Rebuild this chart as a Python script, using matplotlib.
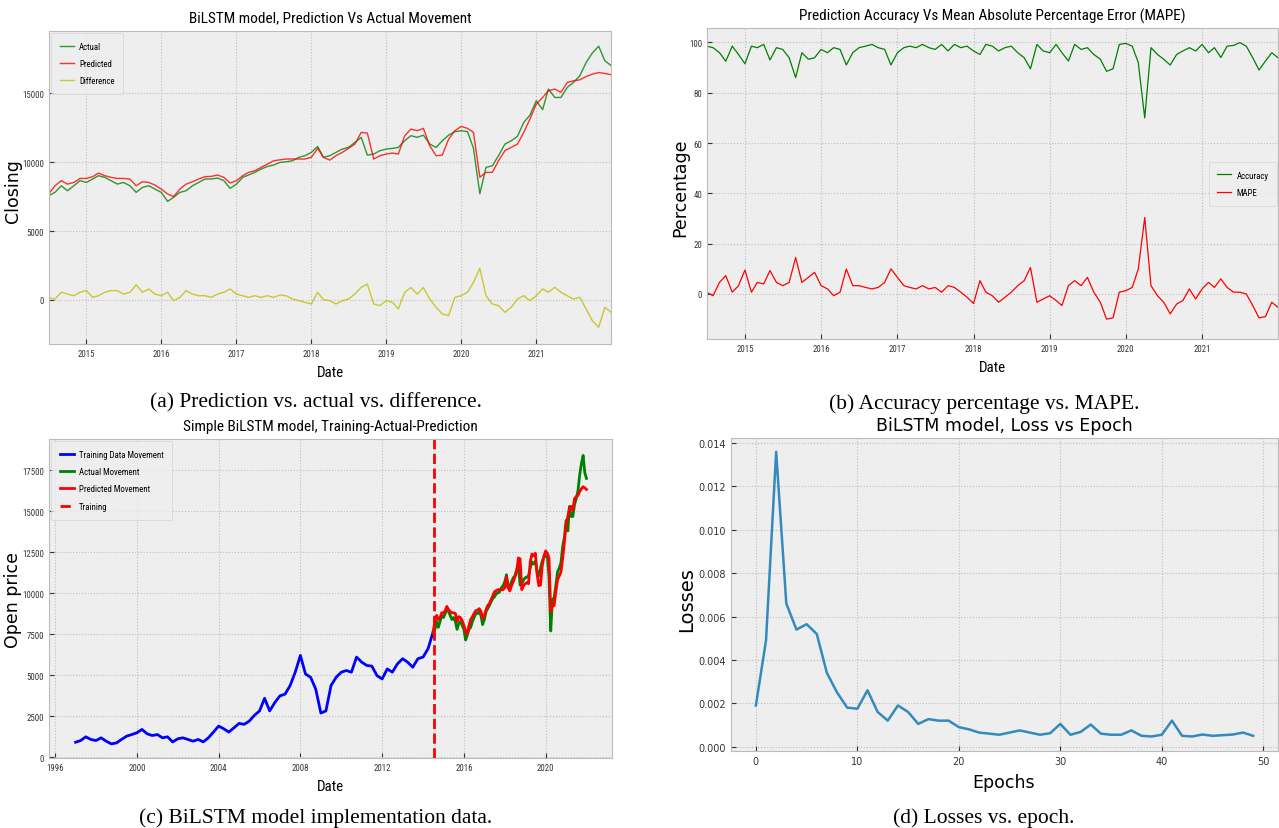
import matplotlib
matplotlib.use("Agg")
import matplotlib.pyplot as plt
import matplotlib.dates as mdates
from matplotlib import font_manager
from matplotlib.font_manager import FontProperties
from matplotlib.ticker import FormatStrFormatter
import pandas as pd

# ---------------- data ----------------
test_first_month = "2014-07-01"
test_last_month = "2021-12-01"
test_last_day = "2021-12-31"

actual = [7560, 7800, 8280, 7920, 8280, 8650,
          8520, 8770, 9010, 8890, 8650, 8400, 8520, 8280, 7800, 8160, 8280, 8040,
          7800, 7150, 7440, 7800, 7920, 8280, 8520, 8770, 8770, 8840, 8650, 8090,
          8400, 8890, 9060, 9250, 9490, 9680, 9780, 9970, 10020, 10090, 10340, 10460,
          10700, 11130, 10340, 10460, 10700, 10940, 11060, 11420, 11790, 10500, 10580, 10820,
          10940, 10990, 11060, 11540, 11910, 11790, 11950, 11300, 11060, 11540, 11950, 12200,
          12270, 12200, 11000, 7700, 9610, 9730, 10460, 11300, 11540, 11860, 12870, 13400,
          14440, 13800, 15290, 14680, 14680, 15410, 15770, 16250, 17220, 17900, 18400, 17340, 17000]

predicted = [7680, 8280, 8650, 8400, 8520, 8810,
             8810, 8940, 9200, 9010, 8890, 8810, 8810, 8770, 8280, 8570, 8520, 8330,
             8040, 7680, 7500, 8040, 8400, 8570, 8770, 8940, 8960, 9060, 8890, 8480,
             8650, 9010, 9250, 9370, 9610, 9850, 10090, 10160, 10220, 10220, 10220, 10220,
             10340, 10990, 10340, 10140, 10460, 10700, 10990, 11300, 12150, 12100, 10220, 10460,
             10580, 10650, 10580, 11910, 12390, 12270, 12440, 11180, 10460, 10500, 11660, 12270,
             12580, 12440, 12150, 8900, 9250, 9250, 10090, 10820, 11060, 11300, 12150, 13110,
             14200, 14680, 15170, 15290, 15050, 15770, 15890, 15960, 16200, 16370, 16490, 16420, 16330]

difference = [190, 70, 560, 430, 310, 560,
              680, 190, 310, 560, 680, 680, 430, 560, 1100, 560, 800, 430,
              310, 560, -50, 190, 680, 430, 310, 310, 190, 430, 560, 800,
              430, 310, 190, 310, 190, 310, 190, 360, 310, 70, -50, -170,
              -290, 560, 20, -50, -290, -50, 70, 430, 920, 1150, -290, -410,
              -50, -170, -650, 560, 900, 430, 900, 70, -530, -1010, -1130, 190,
              310, 560, 1280, 2300, 310, -290, -410, -890, -530, 70, 310, -50,
              310, 800, 560, 920, 560, 310, 70, 190, -650, -1500, -1980, -530, -890]

accuracy = [98.5, 97.9, 95.9, 92.5, 98.5, 95.2,
            91.5, 98.5, 97.9, 99.2, 93.0, 97.9, 97.2, 93.9, 86.0, 95.9, 93.3, 93.9,
            97.2, 95.9, 97.9, 97.2, 91.0, 95.9, 97.9, 98.5, 99.2, 97.9, 97.2, 91.0,
            95.9, 97.9, 98.5, 97.9, 99.2, 97.9, 97.2, 99.2, 96.6, 99.2, 97.9, 98.5,
            96.6, 95.2, 99.2, 98.5, 96.6, 97.9, 98.5, 95.9, 93.9, 89.5, 99.2, 96.6,
            95.9, 99.2, 95.9, 92.6, 99.2, 97.2, 97.9, 95.2, 93.3, 88.5, 89.5, 99.2,
            99.6, 98.5, 92.0, 70.0, 97.9, 95.2, 93.3, 91.0, 95.2, 96.6, 97.9, 96.6,
            99.2, 95.9, 97.9, 94.0, 98.5, 98.8, 99.9, 98.5, 93.9, 89.0, 92.6, 95.9, 93.9]

mape = [0.7, -0.7, 4.6, 7.3, 0.7, 3.3,
        9.5, 0.7, 4.6, 4.0, 9.3, 4.6, 3.3, 4.6, 14.5, 4.6, 6.6, 8.6,
        3.3, 2.0, -0.7, 0.7, 9.9, 3.3, 3.3, 2.6, 2.0, 2.6, 4.6, 10.0,
        6.6, 3.3, 2.6, 2.0, 3.3, 2.0, 2.6, 0.7, 3.3, 2.6, 0.7, -1.3,
        -3.8, 5.3, 0.7, -0.7, -3.3, -1.3, 0.7, 3.3, 5.3, 10.5, -3.3, -2.0,
        -0.7, -2.6, -4.6, 3.3, 5.3, 3.3, 6.6, 0.7, -3.3, -10.0, -9.5, 0.7,
        1.3, 2.6, 9.9, 30.4, 3.3, -0.7, -3.3, -7.9, -4.0, -2.6, 2.0, -2.0,
        2.0, 4.6, 2.6, 6.0, 2.6, 0.7, 0.7, 0.0, -4.6, -9.5, -9.0, -3.3, -5.3]

train_first_quarter = "1997-01-01"
train_last_quarter = "2014-07-01"
training = [920, 1025, 1250, 1090,
            1025, 1190, 985, 820,
            880, 1090, 1290, 1390,
            1500, 1700, 1435, 1330,
            1390, 1190, 1250, 940,
            1130, 1190, 1090, 985,
            1090, 940, 1190, 1540,
            1910, 1740, 1540, 1800,
            2070, 2010, 2210, 2560,
            2830, 3600, 2830, 3340,
            3750, 3850, 4370, 5190,
            6210, 5080, 4880, 4160,
            2700, 2830, 4370, 4880,
            5190, 5290, 5190, 6110,
            5800, 5600, 5560, 4980,
            4780, 5390, 5190, 5700,
            6010, 5800, 5490, 6010,
            6110, 6620, 7650]
split_date = "2014-07-10"

epochs = list(range(50))
losses = [0.0019, 0.0049, 0.0136, 0.0066, 0.0054, 0.00565, 0.0052, 0.0034, 0.0025, 0.0018,
          0.00175, 0.0026, 0.0016, 0.0012, 0.0019, 0.0016, 0.00105, 0.00127, 0.0012, 0.0012,
          0.0009, 0.0008, 0.00065, 0.0006, 0.00055, 0.00065, 0.00075, 0.00065, 0.00055, 0.00062,
          0.00105, 0.00055, 0.00068, 0.00102, 0.0006, 0.00055, 0.00055, 0.00075, 0.0005, 0.00047,
          0.00055, 0.0012, 0.0005, 0.00047, 0.00056, 0.0005, 0.00053, 0.00056, 0.00065, 0.0005]

test_dates = pd.date_range(test_first_month, test_last_month, freq="MS").append(
    pd.DatetimeIndex([test_last_day]))
train_dates = pd.date_range(train_first_quarter, train_last_quarter, freq="QS")

# ---------------- style ----------------
plt.style.use("bmh")

# narrow font for the horizontally squeezed panels (a)-(c)
CONDENSED = ("condensed", "semi-condensed", "extra-condensed", "ultra-condensed")
cond_names = {f.name for f in font_manager.fontManager.ttflist
              if f.stretch in CONDENSED and f.style == "normal"}
all_names = {f.name for f in font_manager.fontManager.ttflist}
NAR, RATIO, STRETCH = "DejaVu Sans", 1.0, "normal"
for n, r in [("Liberation Sans Narrow", 0.68), ("Roboto Condensed", 0.78),
             ("Open Sans Condensed", 0.74), ("Noto Sans", 0.78),
             ("DejaVu Sans", 0.89), ("Open Sans", 0.8), ("Roboto", 0.8)]:
    if n in cond_names:
        NAR, RATIO, STRETCH = n, r, "condensed"
        break
SERIF = "Liberation Serif" if "Liberation Serif" in all_names else "DejaVu Serif"

plt.rcParams.update({
    "font.family": "DejaVu Sans",
    "axes.edgecolor": "#bcbcbc",
    "axes.facecolor": "#eeeeee",
    "grid.linestyle": ":",
    "grid.color": "#bdbdbd",
    "grid.linewidth": 0.8,
    "xtick.color": "#333333",
    "ytick.color": "#333333",
})

W, H = 1279.0, 829.0
fig = plt.figure(figsize=(W / 100, H / 100), dpi=100)
fig.patch.set_facecolor("white")


def box(l, t, r, b):
    return [l / W, 1 - b / H, (r - l) / W, (b - t) / H]


# sizes that match the reference widths in DejaVu Sans, rescaled for the narrow font
TICK = 4.9 / RATIO
LEG = 4.9 / RATIO
TITLE = 8.6 / RATIO
XLAB = 8.4 / RATIO
LEG_PX = LEG * 100 / 72.0


def nar(size):
    return FontProperties(family=NAR, stretch=STRETCH, size=size)


def legend_kw():
    return dict(prop=nar(LEG), handlelength=14 / LEG_PX, handletextpad=5 / LEG_PX,
                labelspacing=max(0.2, (19.2 - 1.25 * LEG_PX) / LEG_PX),
                borderpad=1.0, fancybox=True)


narrow_rc = {"font.family": NAR, "font.stretch": STRETCH}

# ---------- (a) ----------
with plt.rc_context(narrow_rc):
    axA = fig.add_axes(box(49, 31.7, 611, 345))
    axA.plot(test_dates, actual, color="g", lw=1.0, alpha=0.8, label="Actual")
    axA.plot(test_dates, predicted, color="r", lw=1.0, alpha=0.8, label="Predicted")
    axA.plot(test_dates, difference, color="y", lw=1.0, alpha=0.8, label="Difference")
    axA.set_xlim(pd.Timestamp("2014-07-03"), pd.Timestamp(test_last_day))
    axA.set_ylim(-3190, 19520)
    axA.set_yticks([0, 5000, 10000, 15000])
    axA.xaxis.set_major_locator(mdates.YearLocator())
    axA.xaxis.set_major_formatter(mdates.DateFormatter("%Y"))
    axA.tick_params(labelsize=TICK, labelfontfamily=NAR)
    axA.legend(loc="upper left", borderaxespad=0.25, **legend_kw())
axA.set_xlabel("Date", fontproperties=nar(XLAB), va="center")
axA.xaxis.set_label_coords(0.5, -0.089)
axA.set_ylabel("Closing", family="DejaVu Sans", fontstretch="normal", fontsize=12.5, va="center")
axA.yaxis.set_label_coords(-0.064, 0.49)
fig.text(330 / W, 1 - 18 / H, "BiLSTM model, Prediction Vs Actual Movement",
         fontproperties=nar(TITLE), ha="center", va="center")
fig.text(315.5 / W, 1 - 403 / H, "(a) Prediction vs. actual vs. difference.",
         family=SERIF, fontsize=15.5, ha="center", va="center")

# ---------- (b) ----------
with plt.rc_context(narrow_rc):
    axB = fig.add_axes(box(707, 29.3, 1278, 340))
    axB.plot(test_dates, accuracy, color="g", lw=0.9, label="Accuracy")
    axB.plot(test_dates, mape, color="r", lw=0.9, label="MAPE")
    axB.set_xlim(pd.Timestamp("2014-07-03"), pd.Timestamp(test_last_day))
    axB.set_ylim(-17.9, 105.6)
    axB.set_yticks([0, 20, 40, 60, 80, 100])
    axB.xaxis.set_major_locator(mdates.YearLocator())
    axB.xaxis.set_major_formatter(mdates.DateFormatter("%Y"))
    axB.tick_params(labelsize=TICK, labelfontfamily=NAR)
    axB.legend(loc="center right", borderaxespad=0.1, **legend_kw())
axB.set_xlabel("Date", fontproperties=nar(XLAB), va="center")
axB.xaxis.set_label_coords(0.5, -0.09)
axB.set_ylabel("Percentage", family="DejaVu Sans", fontstretch="normal", fontsize=12.5, va="center")
axB.yaxis.set_label_coords(-0.046, 0.49)
fig.text(992.5 / W, 1 - 16 / H, "Prediction Accuracy Vs Mean Absolute Percentage Error (MAPE)",
         fontproperties=nar(TITLE), ha="center", va="center")
fig.text(984 / W, 1 - 404 / H, "(b) Accuracy percentage vs. MAPE.",
         family=SERIF, fontsize=15.5, ha="center", va="center")

# ---------- (c) ----------
with plt.rc_context(narrow_rc):
    axC = fig.add_axes(box(49, 440, 612, 759))
    axC.plot(train_dates, training, color="b", lw=2.0, label="Training Data Movement")
    axC.plot(test_dates, actual, color="g", lw=2.0, label="Actual Movement")
    axC.plot(test_dates, predicted, color="r", lw=2.0, label="Predicted Movement")
    axC.axvline(pd.Timestamp(split_date), color="r", ls="--", lw=2.0, label="Training")
    axC.set_xlim(pd.Timestamp("1995-09-13"), pd.Timestamp("2023-04-01"))
    axC.set_ylim(-40, 19400)
    axC.set_yticks([0, 2500, 5000, 7500, 10000, 12500, 15000, 17500])
    axC.xaxis.set_major_locator(mdates.YearLocator(4))
    axC.xaxis.set_major_formatter(mdates.DateFormatter("%Y"))
    axC.tick_params(labelsize=TICK, labelfontfamily=NAR)
    axC.legend(loc="upper left", borderaxespad=0.25, **legend_kw())
axC.set_xlabel("Date", fontproperties=nar(XLAB), va="center")
axC.xaxis.set_label_coords(0.5, -0.089)
axC.set_ylabel("Open price", family="DejaVu Sans", fontstretch="normal", fontsize=12.5, va="center")
axC.yaxis.set_label_coords(-0.064, 0.498)
fig.text(330 / W, 1 - 427 / H, "Simple BiLSTM model, Training-Actual-Prediction",
         fontproperties=nar(TITLE), ha="center", va="center")
fig.text(316 / W, 1 - 818 / H, "(c) BiLSTM model implementation data.",
         family=SERIF, fontsize=15.5, ha="center", va="center")

# ---------- (d) ----------
axD = fig.add_axes(box(731, 438.5, 1278, 752))
axD.plot(epochs, losses, color="#348ABD", lw=1.8)
axD.set_xlim(-2.45, 51.45)
axD.set_ylim(-0.0002, 0.01426)
axD.set_xticks([0, 10, 20, 30, 40, 50])
axD.set_yticks([0.0, 0.002, 0.004, 0.006, 0.008, 0.010, 0.012, 0.014])
axD.yaxis.set_major_formatter(FormatStrFormatter("%.3f"))
axD.tick_params(labelsize=7)
axD.set_xlabel("Epochs", fontsize=12.5, va="center")
axD.xaxis.set_label_coords(0.499, -0.099)
axD.set_ylabel("Losses", fontsize=14, va="center")
axD.yaxis.set_label_coords(-0.0804, 0.485)
fig.text(1004.7 / W, 1 - 426 / H, "BiLSTM model, Loss vs Epoch",
         fontsize=12.5, ha="center", va="center")
fig.text(984 / W, 1 - 818 / H, "(d) Losses vs. epoch.",
         family=SERIF, fontsize=15.5, ha="center", va="center")

fig.savefig("out.png", dpi=100, facecolor="white")
